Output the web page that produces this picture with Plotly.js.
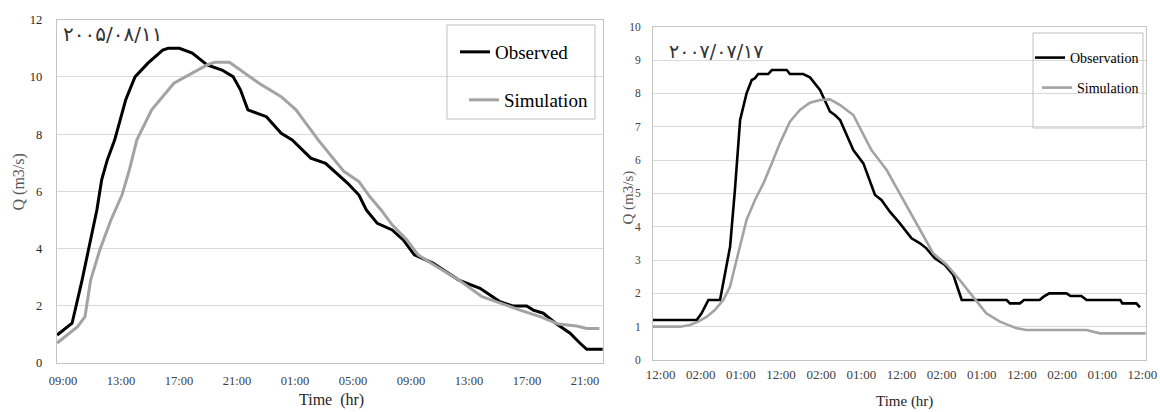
<!DOCTYPE html>
<html><head><meta charset="utf-8">
<script src="https://cdn.plot.ly/plotly-3.0.1.min.js"></script>
<style>html,body{margin:0;padding:0;background:#fff}#chart{width:1160px;height:412px}</style>
</head><body><div id="chart"></div>
<script>
// ---- Event 1 (2005/08/11): hours after 09:00 ----
const obs1Hours = [-0.4, 0.63, 1.32, 1.9, 2.34, 2.67, 3.06, 3.57, 4.33, 4.97, 5.86, 6.88, 7.26, 8.03, 8.92, 9.94, 10.97, 11.73, 12.24, 12.75, 14.03, 15.05, 15.81, 17.09, 18.11, 19.64, 20.41, 20.92, 21.68, 22.7, 23.47, 24.23, 25.51, 27.3, 28.76, 29.45, 30.14, 31.06, 31.98, 32.43, 33.12, 34.05, 34.97, 35.66, 36.12, 37.22];
const obs1Flow  = [0.98, 1.39, 2.9, 4.3, 5.35, 6.4, 7.1, 7.8, 9.2, 10.0, 10.48, 10.94, 11.0, 11.0, 10.83, 10.42, 10.24, 10.01, 9.55, 8.85, 8.61, 8.03, 7.8, 7.16, 6.98, 6.28, 5.87, 5.35, 4.88, 4.65, 4.3, 3.78, 3.49, 2.9, 2.61, 2.38, 2.14, 1.99, 1.99, 1.85, 1.74, 1.36, 1.04, 0.69, 0.48, 0.48];
const sim1Hours = [-0.4, 1.01, 1.52, 1.78, 1.91, 2.54, 3.31, 4.07, 4.58, 5.1, 6.12, 7.65, 8.92, 9.94, 10.46, 11.48, 13.52, 15.05, 16.07, 17.6, 18.62, 19.39, 20.41, 21.17, 21.94, 22.7, 23.72, 24.49, 25.76, 27.3, 28.9, 30.14, 31.52, 32.9, 34.16, 35.43, 36.12, 37.0];
const sim1Flow  = [0.7, 1.27, 1.62, 2.55, 2.9, 3.95, 5.0, 5.87, 6.75, 7.8, 8.85, 9.78, 10.13, 10.42, 10.51, 10.51, 9.78, 9.31, 8.85, 7.8, 7.16, 6.69, 6.34, 5.81, 5.35, 4.83, 4.3, 3.78, 3.37, 2.9, 2.32, 2.09, 1.85, 1.62, 1.36, 1.29, 1.21, 1.21];
const xTicks1  = [0, 4, 8, 12, 16, 20, 24, 28, 32, 36];
const xLabels1 = ['09:00','13:00','17:00','21:00','01:00','05:00','09:00','13:00','17:00','21:00'];

// ---- Event 2 (2007/07/17): position in tick-label units ----
const obs2Pos  = [-0.19, 0.9, 1.02, 1.19, 1.48, 1.6, 1.73, 1.85, 1.98, 2.14, 2.27, 2.35, 2.43, 2.68, 2.77, 3.14, 3.22, 3.55, 3.72, 3.97, 4.09, 4.22, 4.34, 4.47, 4.8, 5.05, 5.34, 5.5, 5.71, 5.96, 6.25, 6.46, 6.62, 6.83, 7.08, 7.29, 7.5, 8.62, 8.7, 8.95, 9.05, 9.44, 9.54, 9.68, 10.11, 10.21, 10.48, 10.61, 11.45, 11.5, 11.85, 11.94];
const obs2Flow = [1.2, 1.2, 1.4, 1.8, 1.8, 2.6, 3.4, 5.1, 7.2, 8.0, 8.4, 8.45, 8.58, 8.58, 8.7, 8.7, 8.58, 8.58, 8.48, 8.1, 7.8, 7.45, 7.35, 7.2, 6.3, 5.9, 4.95, 4.8, 4.45, 4.1, 3.65, 3.5, 3.35, 3.05, 2.85, 2.55, 1.8, 1.8, 1.7, 1.7, 1.8, 1.8, 1.9, 2.0, 2.0, 1.92, 1.92, 1.8, 1.8, 1.7, 1.7, 1.58];
const sim2Pos  = [-0.19, 0.48, 0.73, 0.94, 1.15, 1.35, 1.56, 1.73, 1.85, 1.98, 2.14, 2.35, 2.56, 2.77, 2.97, 3.22, 3.47, 3.72, 3.97, 4.22, 4.47, 4.8, 5.25, 5.63, 6.04, 6.46, 6.79, 7.13, 7.45, 7.78, 8.11, 8.45, 8.87, 9.11, 10.61, 10.94, 12.08];
const sim2Flow = [1.0, 1.0, 1.05, 1.15, 1.3, 1.5, 1.8, 2.2, 2.8, 3.4, 4.2, 4.8, 5.3, 5.9, 6.5, 7.15, 7.5, 7.72, 7.8, 7.82, 7.65, 7.35, 6.3, 5.7, 4.8, 3.9, 3.2, 2.85, 2.4, 1.9, 1.4, 1.15, 0.95, 0.9, 0.9, 0.8, 0.8];
const xTicks2  = [0, 1, 2, 3, 4, 5, 6, 7, 8, 9, 10, 11, 12];
const xLabels2 = ['12:00','02:00','01:00','12:00','02:00','01:00','12:00','02:00','01:00','12:00','02:00','01:00','12:00'];

const date1 = '۲۰۰۵/۰۸/۱۱';
const date2 = '۲۰۰۷/۰۷/۱۷';
const names1 = ['Observed', 'Simulation'];
const names2 = ['Observation', 'Simulation'];

// ---- layout helpers ----
const W = 1160, H = 412;
const fx = v => v / W;
const fy = v => 1 - v / H;
const SERIF = 'Liberation Serif, Times New Roman, serif';
const GRID = '#d9d9d9', FRAME = '#c4c4c4';
const BLACK = '#000000', GRAY = '#a3a3a3';

const traces = [
  {x: obs1Hours, y: obs1Flow, xaxis: 'x', yaxis: 'y', name: names1[0], mode: 'lines',
   line: {color: BLACK, width: 3}, legend: 'legend'},
  {x: sim1Hours, y: sim1Flow, xaxis: 'x', yaxis: 'y', name: names1[1], mode: 'lines',
   line: {color: GRAY, width: 3}, legend: 'legend2'},
  {x: obs2Pos, y: obs2Flow, xaxis: 'x2', yaxis: 'y2', name: names2[0], mode: 'lines',
   line: {color: BLACK, width: 2.6}, legend: 'legend3'},
  {x: sim2Pos, y: sim2Flow, xaxis: 'x2', yaxis: 'y2', name: names2[1], mode: 'lines',
   line: {color: GRAY, width: 2.6}, legend: 'legend4'}
];

function legendAt(xpx, ypx, size) {
  return {x: fx(xpx), y: fy(ypx), xanchor: 'left', yanchor: 'middle', xref: 'paper', yref: 'paper',
    bgcolor: 'rgba(0,0,0,0)', borderwidth: 0, font: {family: SERIF, size: size, color: '#000'},
    itemclick: false, itemdoubleclick: false};
}

const axisCommon = {showline: true, linecolor: FRAME, linewidth: 1, mirror: true, zeroline: false,
  ticks: '', fixedrange: true};

const layout = {
  width: W, height: H,
  margin: {l: 0, r: 0, t: 0, b: 0},
  paper_bgcolor: '#fff', plot_bgcolor: '#fff',
  showlegend: true,
  xaxis: Object.assign({}, axisCommon, {domain: [fx(56.7), fx(603)], range: [-0.43, 37.24],
    tickmode: 'array', tickvals: xTicks1, ticktext: xLabels1, showgrid: false, anchor: 'y',
    tickfont: {family: SERIF, size: 12.5, color: '#404040'}, ticklabelstandoff: 6}),
  yaxis: Object.assign({}, axisCommon, {domain: [1 - 363 / H, 1 - 19.7 / H], range: [0, 12], dtick: 2,
    showgrid: true, gridcolor: GRID, gridwidth: 1, anchor: 'x',
    tickfont: {family: SERIF, size: 12.5, color: '#262626'}, ticklabelstandoff: 11}),
  xaxis2: Object.assign({}, axisCommon, {domain: [fx(653), fx(1146)], range: [-0.19, 12.09],
    tickmode: 'array', tickvals: xTicks2, ticktext: xLabels2, showgrid: false, anchor: 'y2',
    tickfont: {family: SERIF, size: 13, color: '#404040'}, ticklabelstandoff: 2}),
  yaxis2: Object.assign({}, axisCommon, {domain: [1 - 360 / H, 1 - 26.7 / H], range: [0, 10], dtick: 1,
    showgrid: true, gridcolor: GRID, gridwidth: 1, anchor: 'x2',
    tickfont: {family: SERIF, size: 11.5, color: '#404040'}, ticklabelstandoff: 9}),
  legend:  legendAt(455, 52, 19),
  legend2: legendAt(464, 100, 19),
  legend3: legendAt(1030, 58, 14),
  legend4: legendAt(1037, 88, 14),
  shapes: [
    {type: 'rect', xref: 'paper', yref: 'paper', x0: fx(447), x1: fx(595), y0: fy(119), y1: fy(25),
     line: {color: '#bfbfbf', width: 1}, fillcolor: 'rgba(0,0,0,0)'},
    {type: 'rect', xref: 'paper', yref: 'paper', x0: fx(1033), x1: fx(1143), y0: fy(128), y1: fy(33),
     line: {color: '#bfbfbf', width: 1}, fillcolor: 'rgba(0,0,0,0)'}
  ],
  annotations: [
    {text: date1, xref: 'paper', yref: 'paper', x: fx(61), y: fy(33.5), xanchor: 'left', yanchor: 'middle',
     showarrow: false, font: {family: 'DejaVu Sans', size: 20, color: '#333'}},
    {text: date2, xref: 'paper', yref: 'paper', x: fx(667), y: fy(51), xanchor: 'left', yanchor: 'middle',
     showarrow: false, font: {family: 'DejaVu Sans', size: 19, color: '#333'}},
    {text: 'Q (m3/s)', xref: 'paper', yref: 'paper', x: fx(18.5), y: fy(182), textangle: -90,
     xanchor: 'center', yanchor: 'middle', showarrow: false, font: {family: SERIF, size: 16, color: '#595959'}},
    {text: 'Time\u00a0 (hr)', xref: 'paper', yref: 'paper', x: fx(331), y: fy(400),
     xanchor: 'center', yanchor: 'middle', showarrow: false, font: {family: SERIF, size: 16, color: '#262626'}},
    {text: 'Q (m3/s)', xref: 'paper', yref: 'paper', x: fx(628), y: fy(197.5), textangle: -90,
     xanchor: 'center', yanchor: 'middle', showarrow: false, font: {family: SERIF, size: 15, color: '#595959'}},
    {text: 'Time (hr)', xref: 'paper', yref: 'paper', x: fx(904), y: fy(401),
     xanchor: 'center', yanchor: 'middle', showarrow: false, font: {family: SERIF, size: 15, color: '#262626'}}
  ]
};

Plotly.newPlot('chart', traces, layout, {staticPlot: true, displayModeBar: false});
</script>
</body></html>
